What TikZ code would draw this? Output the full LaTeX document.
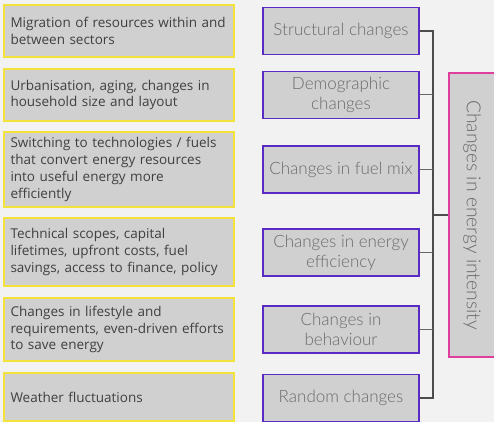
\documentclass[tikz,border=0pt]{standalone}
\usepackage{fontspec}
\setmainfont{Open Sans}
\newfontfamily\thinfont{Lato Light}
\usetikzlibrary{positioning}

\definecolor{paper}{HTML}{F2F2F2}
\definecolor{boxgray}{HTML}{D0D0D0}
\definecolor{causeline}{HTML}{F2E23A}
\definecolor{changeline}{HTML}{5A2AC4}
\definecolor{targetline}{HTML}{DE3F9C}
\definecolor{causetext}{HTML}{404040}
\definecolor{changetext}{HTML}{6A6A6A}

\begin{document}
\begin{tikzpicture}[x=1pt,y=1pt]
	\tikzstyle{Cause}	= [rectangle, draw=causeline, line width=2pt, fill=boxgray, text=causetext, font=\fontsize{13.5}{16.7}\selectfont, text width=216pt, align=left, minimum width=230pt, inner xsep=7pt, inner ysep=0pt]
	\tikzstyle{Change}	= [rectangle, draw=changeline, line width=1.3pt, fill=boxgray, text=changetext, font=\thinfont\fontsize{17}{20}\selectfont, align=center, minimum width=156pt, minimum height=47pt, inner sep=0pt]
	\tikzstyle{Target}	= [rectangle, draw=targetline, line width=1.2pt, fill=boxgray, text=changetext, font=\thinfont\fontsize{19.3}{22}\selectfont, minimum width=284pt, minimum height=46pt, inner sep=0pt]
	\tikzstyle{Bus}		= [line width=1.3pt, black!70]
	\tikzstyle{Stub}	= [line width=1pt, black!60]

	\fill[paper] (0,0) rectangle (494,-422);
	\useasboundingbox (0,0) rectangle (494,-422);

	% causes
	\node (cause1) at (118.5,-31) [Cause, minimum height=52pt] {Migration of resources within and\\between sectors};
	\node (cause2) at (118.5,-95) [Cause, minimum height=52pt] {Urbanisation, aging, changes in\\household size and layout};
	\node (cause3) at (118.5,-169.5) [Cause, minimum height=75pt] {Switching to technologies / fuels\\that convert energy resources\\into useful energy more\\efficiently};
	\node (cause4) at (118.5,-252) [Cause, minimum height=68pt] {Technical scopes, capital\\lifetimes, upfront costs, fuel\\savings, access to finance, policy};
	\node (cause5) at (118.5,-329.5) [Cause, minimum height=63pt] {Changes in lifestyle and\\requirements, even-driven efforts\\to save energy};
	\node (cause6) at (118.5,-397) [Cause, minimum height=48pt] {Weather fluctuations};

	% kinds of change
	\node (change1) at (341,-31) [Change] {Structural changes};
	\node (change2) at (341,-95) [Change] {Demographic\\changes};
	\node (change3) at (341,-169.5) [Change] {Changes in fuel mix};
	\node (change4) at (341,-252.5) [Change] {Changes in energy\\efficiency};
	\node (change5) at (341,-329.5) [Change] {Changes in\\behaviour};
	\node (change6) at (341,-398) [Change] {Random changes};

	\node (intensity) at (472,-215) [Target, rotate=-90] {Changes in energy intensity};

	% bracket
	\coordinate (bus) at (433,0);
	\draw [Bus] (change1.east) -- (change1.east -| bus) -- (change6.east -| bus) -- (change6.east);
	\foreach \n in {2,...,5}
		\draw [Stub] (change\n.east) -- (change\n.east -| bus);
	\draw [Bus] (intensity.south -| bus) -- (intensity.south);
\end{tikzpicture}
\end{document}
